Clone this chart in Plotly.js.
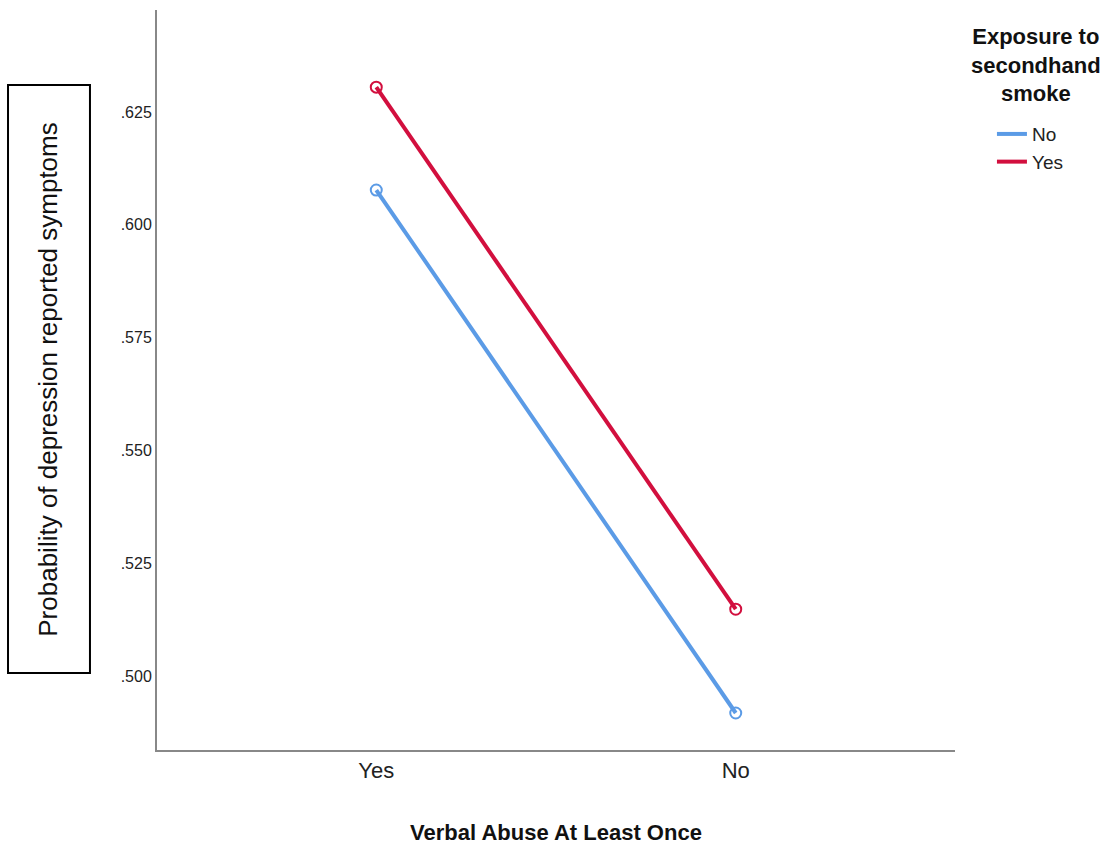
<!DOCTYPE html>
<html>
<head>
<meta charset="utf-8">
<script src="https://cdn.plot.ly/plotly-3.0.1.min.js"></script>
<style>html,body{margin:0;padding:0;background:#fff;}#chart{width:1107px;height:852px;}</style>
</head>
<body>
<div id="chart"></div>
<script>
var categories = ["Yes", "No"];
var seriesNames = ["No", "Yes"];
var valuesNoSmoke = [0.6077, 0.4918];
var valuesYesSmoke = [0.6305, 0.5148];
var yTickVals = [0.500, 0.525, 0.550, 0.575, 0.600, 0.625];
var yTickText = [".500", ".525", ".550", ".575", ".600", ".625"];
var colors = ["#5B9BE6", "#D20F3E"];

var narrow = "Liberation Sans Narrow, Arial Narrow, Liberation Sans, Arial, sans-serif";
var regular = "Liberation Sans, Arial, sans-serif";

function mk(name, vals, color) {
  return {
    x: categories, y: vals, name: name, type: "scatter", mode: "lines+markers",
    showlegend: false,
    line: {color: color, width: 4},
    marker: {symbol: "circle-open", size: 11, color: color, line: {width: 2, color: color}}
  };
}
function legendOnly(name, color) {
  return {
    x: [categories[0]], y: [null], name: name, type: "scatter", mode: "lines",
    line: {color: color, width: 4}, hoverinfo: "skip"
  };
}
var data = [
  mk(seriesNames[0], valuesNoSmoke, colors[0]),
  mk(seriesNames[1], valuesYesSmoke, colors[1]),
  legendOnly(seriesNames[0], colors[0]),
  legendOnly(seriesNames[1], colors[1])
];

var layout = {
  width: 1107, height: 852,
  margin: {l: 157, r: 152, t: 10, b: 102},
  paper_bgcolor: "#fff", plot_bgcolor: "#fff",
  showlegend: true,
  xaxis: {
    type: "category", range: [-0.61, 1.61],
    showgrid: false, zeroline: false, showline: true, linecolor: "#888", linewidth: 2,
    ticks: "", tickfont: {family: narrow, size: 22, color: "#222"},
    title: {text: "Verbal Abuse At Least Once", font: {family: narrow, size: 22, color: "#111", weight: "bold"}, standoff: 42}
  },
  yaxis: {
    range: [0.4836, 0.6476],
    showgrid: false, zeroline: false, showline: true, linecolor: "#888", linewidth: 2,
    ticks: "", tickvals: yTickVals, ticktext: yTickText,
    tickfont: {family: narrow, size: 16, color: "#222"}
  },
  legend: {
    x: 1.0463, y: 0.858, xanchor: "left", yanchor: "top",
    font: {family: narrow, size: 19, color: "#222"},
    itemwidth: 30, tracegroupgap: 0, bgcolor: "rgba(0,0,0,0)"
  },
  annotations: [
    {xref: "paper", yref: "paper", x: 1.1015, y: 0.984, xanchor: "center", yanchor: "top",
     text: "<b>Exposure to<br>secondhand<br>smoke</b>", showarrow: false, align: "center",
     font: {family: narrow, size: 22, color: "#111"}},
    {xref: "paper", yref: "paper", x: -0.136, y: 0.501, xanchor: "center", yanchor: "middle",
     text: "Probability of depression reported symptoms", textangle: -90, showarrow: false,
     font: {family: regular, size: 26, color: "#111"}}
  ],
  shapes: [
    {type: "rect", xref: "paper", yref: "paper", x0: -0.1867, x1: -0.084, y0: 0.104, y1: 0.8986,
     line: {color: "#000", width: 2}, fillcolor: "rgba(0,0,0,0)"}
  ]
};

Plotly.newPlot("chart", data, layout, {displayModeBar: false});
</script>
</body>
</html>
